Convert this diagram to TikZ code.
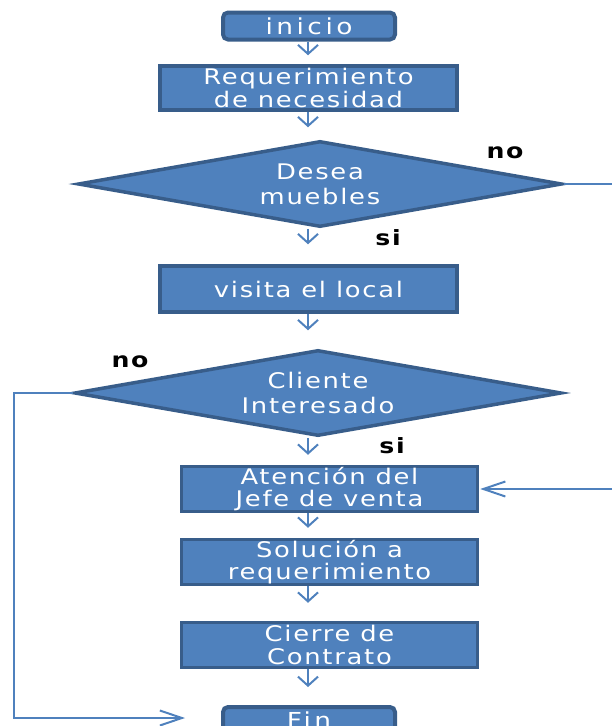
\documentclass[tikz,border=0pt]{standalone}
\usepackage{fontspec}
\setmainfont{DejaVu Sans}
\newfontfamily\boxfont[LetterSpace=8,FakeStretch=1.2]{DejaVu Sans}
\newfontfamily\termfont[LetterSpace=16,FakeStretch=1.2]{DejaVu Sans}
\newfontfamily\labfont[LetterSpace=8,FakeStretch=1.2]{DejaVu Sans Bold}
\usetikzlibrary{arrows.meta,shapes.geometric}
\definecolor{boxfill}{HTML}{4F81BD}
\definecolor{boxedge}{HTML}{385D8A}
\tikzset{
  stepbox/.style={draw=boxedge, line width=3.5pt, fill=boxfill, text=white,
    font=\boxfont\fontsize{21.5}{22.5}\selectfont, align=center, inner sep=0pt,
    minimum width=296pt, minimum height=45pt},
  termbox/.style={stepbox, rounded corners=5pt, line width=4pt, minimum width=172pt,
    font=\termfont\fontsize{22}{23}\selectfont},
  decision/.style={diamond, draw=boxedge, line width=3.5pt, fill=boxfill, text=white,
    font=\boxfont\fontsize{21.5}{25}\selectfont, align=center, inner sep=0pt,
    aspect=5.6, minimum width=484pt, minimum height=86pt},
  branch/.style={font=\labfont\fontsize{21}{22}\selectfont, text=black},
  link/.style={draw=boxfill, line width=2pt},
  flow/.style={link, -{Straight Barb[length=9pt,width=20pt,line width=2pt]}},
  sideflow/.style={link, -{Straight Barb[length=22pt,width=15pt,line width=2pt]}}
}
\begin{document}
\begin{tikzpicture}[x=1pt, y=-1pt]
  \useasboundingbox (0,0) rectangle (612,726);
  \clip (0,0) rectangle (612,726);

  % column of the main arrows and the side guide lines
  \coordinate (ax) at (308,0);
  \coordinate (lc) at (14,718);
  \coordinate (finin) at (185,718);
  \coordinate (e1) at (612,184);
  \coordinate (e2) at (612,489);

  % steps
  \node[termbox, minimum height=27pt] (inicio) at (309,26) {inicio};
  \node[stepbox, minimum width=297pt, minimum height=44pt] (req) at (308.5,88) {Requerimiento\\de necesidad};
  \node[decision] (d1) at (320,184) {Desea\\muebles};
  \node[stepbox, minimum width=297pt, minimum height=46pt] (visita) at (308.5,289) {visita el local};
  \node[decision, minimum width=487pt] (d2) at (318,393) {Cliente\\Interesado};
  \node[stepbox] (aten) at (329.5,489) {Atención del\\Jefe de venta};
  \node[stepbox] (sol) at (329.5,562) {Solución a\\requerimiento};
  \node[stepbox] (cierre) at (329.5,645) {Cierre de\\Contrato};
  \node[termbox, minimum height=26pt] (fin) at (309,720) {Fin};

  % branch labels
  \node[branch] (no1) at (505,153) {no};
  \node[branch] (si1) at (388,238) {si};
  \node[branch] (no2) at (130,362) {no};
  \node[branch] (si2) at (392,446) {si};

  % main flow
  \draw[flow, shorten >=9pt]  (inicio.south -| ax) -- (req.north -| ax);
  \draw[flow, shorten >=12pt] (req.south -| ax) -- (d1.north -| ax);
  \draw[flow, shorten >=20pt] (d1.south -| ax) -- (visita.north -| ax);
  \draw[flow, shorten >=18pt] (visita.south -| ax) -- (d2.north -| ax);
  \draw[flow, shorten >=10pt] (d2.south -| ax) -- (aten.north -| ax);
  \draw[flow, shorten >=10pt] (aten.south -| ax) -- (sol.north -| ax);
  \draw[flow, shorten >=18pt] (sol.south -| ax) -- (cierre.north -| ax);
  \draw[flow, shorten >=18pt] (cierre.south -| ax) -- (fin.north -| ax);

  % side branches
  \draw[link] (d1.east) -- (e1);
  \draw[sideflow] (d2.west) -| (lc) -- (finin);
  \draw[sideflow, shorten >=1pt] (e2) -- (aten.east);
\end{tikzpicture}
\end{document}
